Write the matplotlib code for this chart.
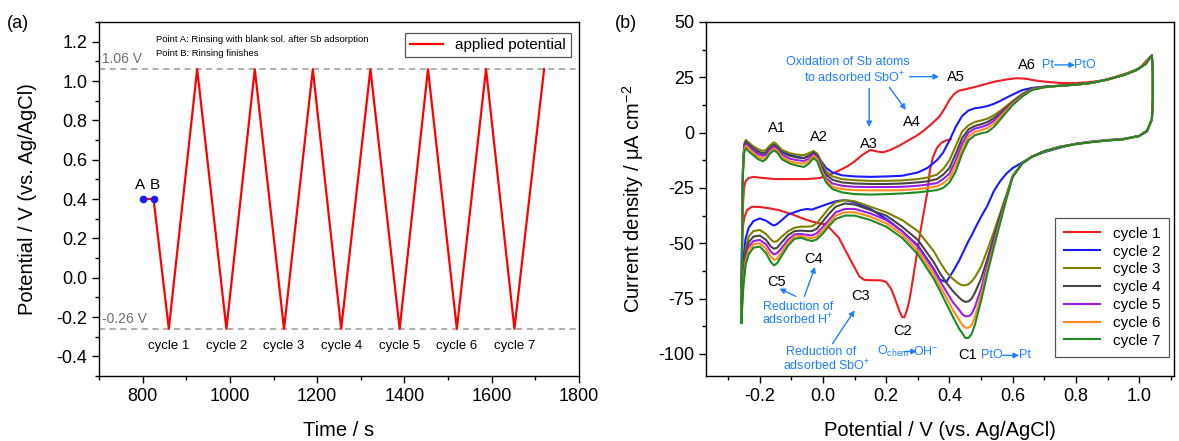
import numpy as np
import matplotlib
matplotlib.use("Agg")
import matplotlib.pyplot as plt
from matplotlib.ticker import MultipleLocator, FormatStrFormatter

plt.rcParams['font.family'] = ['Liberation Sans', 'DejaVu Sans']
plt.rcParams['mathtext.fontset'] = 'custom'
plt.rcParams['mathtext.rm'] = 'Liberation Sans'
plt.rcParams['mathtext.it'] = 'Liberation Sans:italic'
plt.rcParams['axes.unicode_minus'] = False

# ---------------- panel (a): applied potential programme ----------------
t_prog = [800, 825, 860, 925, 992, 1057, 1124, 1190, 1255, 1322, 1389, 1454, 1520, 1587, 1652, 1720]
e_prog = [0.40, 0.40, -0.26, 1.06, -0.26, 1.06, -0.26, 1.06, -0.26, 1.06, -0.26, 1.06, -0.26, 1.06, -0.26, 1.06]
t_points = [800, 825]
e_points = [0.40, 0.40]
point_names = ['A', 'B']
cycle_times = [860, 992, 1124, 1255, 1389, 1520, 1652]
cycle_names = ['cycle 1', 'cycle 2', 'cycle 3', 'cycle 4', 'cycle 5', 'cycle 6', 'cycle 7']
e_upper = 1.06
e_lower = -0.26

# ---------------- panel (b): cyclic voltammograms ----------------
# anodic sweep grid (cycles 2-7)
e_an = [-0.258, -0.256, -0.253, -0.249, -0.244,
        -0.235, -0.222, -0.205, -0.19, -0.18,
        -0.168, -0.155, -0.145, -0.13, -0.105,
        -0.08, -0.06, -0.045, -0.03, -0.018,
        -0.005, 0.01, 0.03, 0.06, 0.1,
        0.15, 0.2, 0.25, 0.3, 0.33,
        0.36, 0.38, 0.4, 0.42, 0.44,
        0.46, 0.48, 0.5, 0.52, 0.54,
        0.56, 0.58, 0.6, 0.63, 0.66,
        0.7, 0.75, 0.8, 0.85, 0.9,
        0.95, 0.99, 1.02, 1.04]
# cathodic sweep grid (cycles 2-7)
e_ca = [1.043, 1.043, 1.04, 1.025, 1.0,
        0.95, 0.9, 0.85, 0.8, 0.75,
        0.7, 0.66, 0.63, 0.6, 0.58,
        0.56, 0.54, 0.52, 0.5, 0.48,
        0.47, 0.46, 0.45, 0.44, 0.43,
        0.41, 0.39, 0.37, 0.35, 0.3,
        0.25, 0.2, 0.15, 0.1, 0.07,
        0.04, 0.02, 0.0, -0.02, -0.035,
        -0.05, -0.07, -0.09, -0.11, -0.13,
        -0.145, -0.155, -0.165, -0.18, -0.2,
        -0.22, -0.235, -0.245, -0.252, -0.256,
        -0.258]

j_an_c2 = [-70, -45, -15, -6, -4.5,
           -5.5, -7, -8.5, -9.5, -9,
           -7, -5.5, -6.5, -8.5, -10,
           -11, -11.5, -10.5, -9, -10,
           -13, -16, -18, -19.3, -19.8,
           -20, -19.8, -19.5, -18, -16,
           -12.5, -9, -3.5, 2.7, 7.5,
           10, 11, 11.4, 12, 13,
           14.3, 15.8, 17.2, 19.2, 20.2,
           20.8, 21.2, 21.7, 22.5, 24,
           26, 28.2, 31, 35]
j_an_c3 = [-78, -50, -15, -5, -3.3,
           -4.5, -6, -7.5, -8.3, -7.8,
           -5.8, -4.4, -5.5, -7.8, -9.3,
           -10, -10.2, -9.3, -8.3, -9.5,
           -13.5, -17.5, -19.8, -21, -21.5,
           -21.8, -21.8, -21.6, -21, -20.3,
           -19, -16.5, -12.5, -6, 0.5,
           3.3, 4.8, 5.5, 6.3, 7.8,
           9.8, 12, 14.3, 17.5, 19.8,
           20.8, 21.2, 21.7, 22.5, 24,
           26, 28.2, 31, 35]
j_an_c4 = [-80, -52, -16, -6, -4,
           -5.3, -7, -8.8, -9.5, -9,
           -7, -5.5, -6.5, -9, -10.5,
           -11.3, -11.5, -10.5, -9, -10.5,
           -15, -19, -21.3, -22.5, -23,
           -23.2, -23.2, -23, -22.5, -22,
           -21, -19, -16, -9.5, -2.5,
           1.5, 3, 3.8, 4.8, 6.5,
           8.8, 11.2, 13.8, 17.2, 19.6,
           20.7, 21.2, 21.7, 22.5, 24,
           26, 28.2, 31, 35]
j_an_c5 = [-82, -53, -17, -7, -5,
           -6.2, -8, -9.8, -10.5, -10,
           -7.8, -6.3, -7.3, -10, -11.8,
           -12.5, -12.8, -11.8, -9.8, -11.3,
           -16, -20.5, -23, -24, -24.5,
           -24.6, -24.6, -24.5, -24, -23.5,
           -22.8, -21, -18.5, -12.5, -5,
           0, 1.8, 2.5, 3.5, 5.3,
           8, 10.7, 13.4, 16.9, 19.5,
           20.6, 21.2, 21.7, 22.5, 24,
           26, 28.2, 31, 35]
j_an_c6 = [-84, -54, -17.5, -8, -6,
           -7.2, -9, -11, -11.8, -11.2,
           -8.8, -7.2, -8.2, -11, -13,
           -13.8, -14, -12.8, -10.5, -12,
           -17, -21.5, -24.5, -25.5, -26,
           -26.1, -26.1, -26, -25.5, -25,
           -24.3, -23, -20.5, -15, -7.3,
           -1.8, 0.3, 1.1, 2, 4,
           7, 10, 13, 16.6, 19.3,
           20.5, 21.2, 21.7, 22.5, 24,
           26, 28.2, 31, 35]
j_an_c7 = [-86, -55, -18, -9, -7,
           -8.5, -10, -12, -13, -12,
           -9.5, -8, -9, -12, -14,
           -15, -15.5, -14, -11.5, -13,
           -18, -22.5, -25.5, -27, -27.8,
           -28, -27.8, -27.5, -27, -26.5,
           -26, -25, -22.5, -17.5, -9.5,
           -3.5, -1.2, -0.3, 0.3, 2.5,
           5.8, 9.2, 12.5, 16.3, 19.2,
           20.5, 21.2, 21.7, 22.5, 24,
           26, 28.2, 31, 35]

j_ca_c2 = [27, 15, 6, 0.5, -1.5,
           -2.8, -3.3, -4, -5, -6.8,
           -8.8, -11, -13.5, -16, -18.5,
           -22, -26.5, -33, -38, -43.5,
           -46.5, -49, -52, -55, -58,
           -63, -67.5, -66.5, -61.5, -51,
           -44.5, -39, -34.5, -31.5, -30.5,
           -31, -32, -33, -34, -34.8,
           -34.5, -35, -36, -37, -39.5,
           -41.3, -42, -41.3, -39.8, -38.8,
           -40, -43, -48, -57, -65,
           -70]
j_ca_c3 = [27, 15, 6, 0.8, -1.5,
           -3, -3.5, -4.2, -5.1, -6.3,
           -8.3, -10.8, -13.8, -19.5, -28,
           -36.5, -45, -53, -60.5, -65.5,
           -67.3, -68.5, -69, -69, -68.3,
           -66, -63, -58.5, -53.5, -44.5,
           -39.5, -36, -33.5, -31, -30.5,
           -31.5, -34, -37.5, -41, -42.3,
           -42.5, -42.5, -43, -44.5, -47,
           -49, -49.4, -48.3, -45.8, -44,
           -44.5, -47, -53, -63, -72,
           -78]
j_ca_c4 = [27, 15, 6, 0.8, -1.5,
           -3, -3.5, -4.2, -5.1, -6.4,
           -8.4, -10.9, -13.9, -19.7, -28.8,
           -38, -47.5, -57, -66, -72.5,
           -75, -76.3, -76.5, -75.8, -74.5,
           -71.5, -67.8, -63.5, -58.5, -48.5,
           -42.5, -37.5, -35, -32.5, -32,
           -33.5, -36.5, -40, -43.5, -44.5,
           -44.5, -44.3, -44.5, -46.3, -49.5,
           -52, -52.5, -51.5, -48.5, -46.5,
           -47, -49.5, -55, -65, -74,
           -80]
j_ca_c5 = [27, 15, 6, 0.9, -1.5,
           -3, -3.5, -4.2, -5.1, -6.4,
           -8.4, -10.9, -13.9, -19.8, -29.3,
           -39.3, -49.5, -59.8, -70.5, -79,
           -82, -83, -83, -82, -80,
           -76.5, -71.8, -67, -62, -51.5,
           -44.5, -39.5, -36.5, -34.5, -34.5,
           -36, -39.3, -42.5, -45.5, -46.5,
           -46.2, -45.8, -46, -48.3, -52,
           -54.5, -55, -53.8, -50.5, -48.5,
           -49, -51.5, -57, -67, -77,
           -82]
j_ca_c6 = [27, 15, 6, 0.9, -1.5,
           -3, -3.5, -4.2, -5.2, -6.5,
           -8.5, -11, -14, -19.9, -29.7,
           -40.3, -51, -62, -73.5, -83.5,
           -87, -88.2, -88.2, -86.8, -84.5,
           -80, -74.5, -69.3, -64, -53.3,
           -46, -41, -38, -36, -36,
           -37.5, -40.5, -44, -47, -47.8,
           -47.4, -46.7, -47, -49.6, -53.8,
           -57, -57.5, -56, -52.5, -50,
           -50.5, -53, -58.5, -68.5, -78.5,
           -84]
j_ca_c7 = [27, 15, 6, 1, -1.5,
           -3, -3.6, -4.3, -5.2, -6.5,
           -8.5, -11, -14, -20, -30,
           -41, -52, -63.5, -76, -87,
           -91, -92.8, -92.8, -90.5, -88.5,
           -83, -77.3, -71.5, -66, -55,
           -47.5, -42.5, -39.5, -37.5, -37.5,
           -39, -42, -45.5, -48.3, -49,
           -48.5, -47.5, -48, -51, -55.5,
           -59, -60, -58.5, -54.5, -51.5,
           -52, -55, -60, -70, -80,
           -86]

# cycle 1 starts at 0.40 V (point B) going cathodic
e_c1_ca = [0.404, 0.39, 0.375, 0.36, 0.348, 0.338, 0.33, 0.32, 0.31, 0.3,
           0.29, 0.28, 0.273, 0.265, 0.257, 0.25, 0.243, 0.235, 0.225, 0.215,
           0.2, 0.185, 0.17, 0.15, 0.13, 0.115, 0.1, 0.085, 0.07, 0.05,
           0.03, 0.01, -0.012, -0.04, -0.064, -0.1, -0.14, -0.17, -0.2, -0.225,
           -0.24, -0.248, -0.253, -0.256]
j_c1_ca = [-3, -3.5, -4.5, -7, -11, -17, -27, -35, -43, -52,
           -61, -70, -76, -80.5, -83.5, -83.3, -81, -78, -74, -70.5,
           -67.5, -66.8, -66.7, -66.7, -66.5, -65, -61, -57, -53, -47.5,
           -44.5, -41.5, -41, -40, -38.8, -36.8, -35, -34.2, -33.6, -33.5,
           -35, -38, -42, -46]
e_c1_an = [-0.254, -0.25, -0.245, -0.235, -0.22, -0.19, -0.15, -0.1, -0.05, -0.01,
           0.03, 0.06, 0.08, 0.1, 0.125, 0.15, 0.17, 0.19, 0.21, 0.24,
           0.27, 0.295, 0.315, 0.34, 0.368, 0.385, 0.4, 0.415, 0.43, 0.45,
           0.48, 0.51, 0.545, 0.58, 0.61, 0.64, 0.67, 0.71, 0.755, 0.8,
           0.84, 0.88, 0.92, 0.96, 1.0, 1.04]
j_c1_an = [-35, -25, -22, -20.5, -20, -20.5, -21, -21, -21, -20.5,
           -18.5, -16.5, -15, -13, -10, -7.8, -8.5, -8.9, -8, -6,
           -3.5, -1.5, 0.5, 3.5, 7.2, 11, 14.8, 17.5, 19, 19.6,
           20.6, 21.8, 23.1, 24, 24.6, 24.4, 23.6, 22.9, 22.4, 22.4,
           22.8, 23.5, 25, 26.8, 29, 35]

cv_labels = ['cycle 1', 'cycle 2', 'cycle 3', 'cycle 4', 'cycle 5', 'cycle 6', 'cycle 7']
cv_colors = ['#ee1c25', '#1a1aff', '#808000', '#454545', '#9a1ee6', '#ff8c1a', '#1f8a1f']

blue_txt = '#1f7fff'

fig = plt.figure(figsize=(11.79, 4.41), dpi=100)
ax1 = fig.add_axes([99/1179, 65/441, 480/1179, 354/441])
ax2 = fig.add_axes([706/1179, 65/441, 468/1179, 354/441])

for ax in (ax1, ax2):
    for s in ax.spines.values():
        s.set_linewidth(1.0)
    ax.tick_params(which='both', direction='out', top=False, right=False, labelsize=13)
    ax.tick_params(which='major', length=5, width=1)
    ax.tick_params(which='minor', length=3, width=1)

# ---- panel (a)
ax1.axhline(e_upper, color='#9a9a9a', ls=(0, (4, 3)), lw=1.1, zorder=1)
ax1.axhline(e_lower, color='#9a9a9a', ls=(0, (4, 3)), lw=1.1, zorder=1)
ax1.plot(t_prog, e_prog, color='#ff0000', lw=1.6, label='applied potential', zorder=3)
ax1.plot(t_points, e_points, 'o', color='#1a1aff', ms=4.5, zorder=4)
for tp, ep, nm in zip(t_points, e_points, point_names):
    ax1.text(tp - 6 if nm == 'A' else tp + 4, ep + 0.035, nm, ha='center', va='bottom', fontsize=11)
for tc, nm in zip(cycle_times, cycle_names):
    ax1.text(tc, -0.345, nm, ha='center', va='center', fontsize=9.5)
ax1.text(707, e_upper + 0.015, '1.06 V', color='#707070', fontsize=10, ha='left', va='bottom')
ax1.text(707, e_lower + 0.015, '-0.26 V', color='#707070', fontsize=10, ha='left', va='bottom')
ax1.text(831, 1.21, 'Point A: Rinsing with blank sol. after Sb adsorption', fontsize=6.8, va='center')
ax1.text(831, 1.14, 'Point B: Rinsing finishes', fontsize=6.8, va='center')

ax1.set_xlim(700, 1800)
ax1.set_ylim(-0.5, 1.3)
ax1.xaxis.set_major_locator(MultipleLocator(200))
ax1.xaxis.set_minor_locator(MultipleLocator(100))
ax1.yaxis.set_major_locator(MultipleLocator(0.2))
ax1.yaxis.set_minor_locator(MultipleLocator(0.1))
ax1.yaxis.set_major_formatter(FormatStrFormatter('%.1f'))
ax1.set_xlabel('Time / s', fontsize=14.5, labelpad=12)
ax1.set_ylabel('Potential / V (vs. Ag/AgCl)', fontsize=14.5, labelpad=14)
leg1 = ax1.legend(loc='upper right', bbox_to_anchor=(0.983, 0.97), fontsize=11, frameon=True,
                  fancybox=False, edgecolor='#555555', framealpha=1, handlelength=2.1,
                  borderpad=0.35, borderaxespad=0)
leg1.get_frame().set_linewidth(0.9)

# ---- panel (b)
ax2.plot(e_c1_ca + e_c1_an, j_c1_ca + j_c1_an, color=cv_colors[0], lw=1.5, label=cv_labels[0])
an_list = [j_an_c2, j_an_c3, j_an_c4, j_an_c5, j_an_c6, j_an_c7]
ca_list = [j_ca_c2, j_ca_c3, j_ca_c4, j_ca_c5, j_ca_c6, j_ca_c7]
for k in range(6):
    ax2.plot(e_an + e_ca, an_list[k] + ca_list[k], color=cv_colors[k + 1], lw=1.5,
             label=cv_labels[k + 1])

ax2.set_xlim(-0.37, 1.11)
ax2.set_ylim(-110, 50)
ax2.xaxis.set_major_locator(MultipleLocator(0.2))
ax2.xaxis.set_minor_locator(MultipleLocator(0.1))
ax2.xaxis.set_major_formatter(FormatStrFormatter('%.1f'))
ax2.yaxis.set_major_locator(MultipleLocator(25))
ax2.yaxis.set_minor_locator(MultipleLocator(12.5))
ax2.set_xlabel('Potential / V (vs. Ag/AgCl)', fontsize=14.5, labelpad=12)
ax2.set_ylabel('Current density / μA cm$^{-2}$', fontsize=14.5, labelpad=9)
leg2 = ax2.legend(loc='lower right', bbox_to_anchor=(0.99, 0.054), fontsize=11, frameon=True,
                  fancybox=False, edgecolor='#555555', framealpha=1, handlelength=2.4,
                  labelspacing=0.25, borderpad=0.6, borderaxespad=0)
leg2.get_frame().set_linewidth(0.9)

akw = dict(arrowstyle='-|>', color=blue_txt, lw=1.0, mutation_scale=8, shrinkA=0, shrinkB=0)

def arrow(x0, y0, x1, y1):
    ax2.annotate('', xy=(x1, y1), xytext=(x0, y0), arrowprops=akw)

peak_text = [('A1', -0.147, 2), ('A2', -0.014, -2.1), ('A3', 0.146, -5.3), ('A4', 0.282, 4.6),
             ('A5', 0.419, 25), ('A6', 0.646, 30.7), ('C5', -0.147, -67.5), ('C4', -0.03, -56.9),
             ('C3', 0.12, -74), ('C2', 0.253, -89.8), ('C1', 0.457, -100.7)]
for nm, x, y in peak_text:
    ax2.text(x, y, nm, ha='center', va='center', fontsize=10.5)

bfs = 9
ax2.text(0.08, 32, 'Oxidation of Sb atoms', color=blue_txt, fontsize=bfs, ha='center', va='center')
ax2.text(0.10, 25, 'to adsorbed SbO$^{+}$', color=blue_txt, fontsize=bfs, ha='center', va='center')
arrow(0.274, 25.3, 0.367, 25.3)
arrow(0.146, 20, 0.146, 2.5)
arrow(0.21, 20.5, 0.262, 10.3)

ax2.text(0.711, 30.6, 'Pt', color=blue_txt, fontsize=bfs, ha='center', va='center')
arrow(0.733, 30.6, 0.797, 30.6)
ax2.text(0.829, 30.6, 'PtO', color=blue_txt, fontsize=bfs, ha='center', va='center')

ax2.text(-0.08, -78.8, 'Reduction of', color=blue_txt, fontsize=bfs, ha='center', va='center')
ax2.text(-0.08, -84.8, 'adsorbed H$^{+}$', color=blue_txt, fontsize=bfs, ha='center', va='center')
arrow(-0.086, -74, -0.138, -70.5)
arrow(-0.059, -74, -0.025, -60.7)

ax2.text(-0.005, -99.2, 'Reduction of', color=blue_txt, fontsize=bfs, ha='center', va='center')
ax2.text(0.012, -105.5, 'adsorbed SbO$^{+}$', color=blue_txt, fontsize=bfs, ha='center', va='center')
arrow(0.03, -95.4, 0.1, -80.3)

ax2.text(0.172, -98.9, 'O$_{\\mathrm{chem}}$', color=blue_txt, fontsize=bfs, ha='left', va='center')
arrow(0.258, -98.9, 0.297, -98.9)
ax2.text(0.326, -98.9, 'OH$^{-}$', color=blue_txt, fontsize=bfs, ha='center', va='center')

ax2.text(0.535, -100.7, 'PtO', color=blue_txt, fontsize=bfs, ha='center', va='center')
arrow(0.568, -100.7, 0.62, -100.7)
ax2.text(0.64, -100.7, 'Pt', color=blue_txt, fontsize=bfs, ha='center', va='center')

fig.text(18/1179, 1 - 24/441, '(a)', fontsize=13, ha='center', va='center')
fig.text(626/1179, 1 - 24/441, '(b)', fontsize=13, ha='center', va='center')

fig.savefig('out.png', dpi=100)
